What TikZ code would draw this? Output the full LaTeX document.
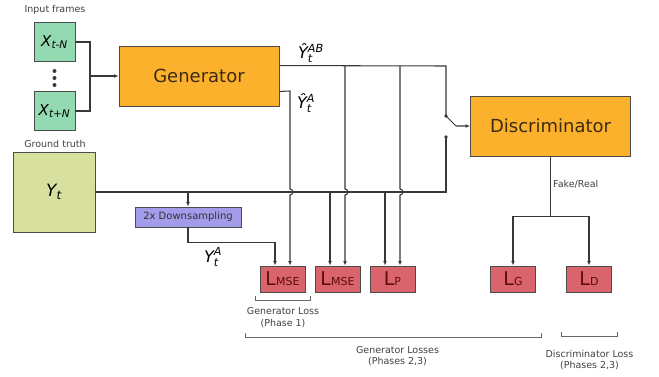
\documentclass[tikz,border=0pt]{standalone}
\usepackage{amsmath}
\usepackage{fontspec}
\setmainfont{DejaVu Sans}
\usepackage{xcolor}
\definecolor{frameGreen}{HTML}{93D9B2}
\definecolor{truthOlive}{HTML}{D7E09F}
\definecolor{netOrange}{HTML}{FCB12D}
\definecolor{sampleBlue}{HTML}{A29CEB}
\definecolor{lossRed}{HTML}{D9646B}
\definecolor{lossText}{HTML}{5E0C0C}
\definecolor{netText}{HTML}{3D2B10}
\definecolor{wireGray}{HTML}{383838}
\usepackage{tikz}
\usetikzlibrary{arrows.meta,calc}
\newcommand{\frameLbl}[1]{{\fontsize{15}{15}\selectfont\itshape X$_{\text{#1}}$}}
\newcommand{\predLbl}[2]{{\fontsize{16}{16}\selectfont\itshape Ŷ$^{\text{#2}}_{\text{#1}}$}}
\newcommand{\lossLbl}[1]{{\fontsize{19}{19}\selectfont L}{\fontsize{11}{11}\selectfont #1}}
\tikzset{%
  baseBlock/.style={
    rectangle, draw=black!70, line width=0.9pt, inner sep=0pt, align=center},
  frameBlock/.style ={baseBlock, fill=frameGreen, minimum width=41pt, minimum height=39pt},
  truthBlock/.style ={baseBlock, fill=truthOlive, minimum width=82pt, minimum height=80pt},
  netBlock/.style   ={baseBlock, fill=netOrange, text=netText, minimum width=160pt,
    minimum height=60pt, font=\fontsize{18}{18}\selectfont},
  sampleBlock/.style={baseBlock, fill=sampleBlue, minimum width=106pt, minimum height=20pt,
    font=\fontsize{10}{10}\selectfont, text=black!80},
  lossBlock/.style  ={baseBlock, fill=lossRed, text=lossText, minimum width=45pt, minimum height=26pt},
  capText/.style    ={font=\fontsize{9.5}{9.5}\selectfont, text=black!75, inner sep=1pt},
  dotMark/.style    ={circle, fill=wireGray, inner sep=0pt, minimum size=3.8pt},
  wire/.style       ={draw=wireGray, line width=1.05pt},
  wireArrow/.style  ={wire, -{Latex[length=4.5pt,width=3.8pt]}},
  bracketLine/.style={draw=black!60, line width=1pt},
}
\begin{document}
\begin{tikzpicture}[x=1pt,y=-1pt]
  \useasboundingbox (0,0) rectangle (659,376);
  % inputs and ground truth
  \node[capText]    (inLbl) at (55,10)   {Input frames};
  \node[frameBlock] (xA)    at (54.5,42) {\frameLbl{t-N}};
  \node[frameBlock] (xB)    at (54.5,111) {\frameLbl{t+N}};
  \foreach \dy in {71,78,85}
    \fill[wireGray] (54.5,\dy) circle[radius=2];
  \node[capText]    (gtLbl) at (55,144)  {Ground truth};
  \node[truthBlock] (yt)    at (54,192)  {{\fontsize{17}{17}\selectfont\itshape Y$_{\text{t}}$}};
  % networks
  \node[netBlock] (gen)  at (199,76)    {Generator};
  \node[netBlock] (disc) at (550.5,126) {Discriminator};
  \node[sampleBlock] (down) at (188,217) {2x Downsampling};
  % losses
  \node[lossBlock] (lmseA) at (282.5,279) {\lossLbl{MSE}};
  \node[lossBlock] (lmseB) at (337.5,279) {\lossLbl{MSE}};
  \node[lossBlock] (lp)    at (392.5,279) {\lossLbl{P}};
  \node[lossBlock] (lg)    at (513,279)   {\lossLbl{G}};
  \node[lossBlock] (ld)    at (589,279)   {\lossLbl{D}};

  % frames into generator
  \coordinate (merge) at (90,76);
  \draw[wire] (xA.east) -| (merge);
  \draw[wire] (xB.east) -| (merge);
  \draw[wireArrow] (merge) -- (gen.west);

  % generator outputs
  \coordinate (genAB) at ($(gen.north east)+(0,20)$);
  \coordinate (genA)  at ($(gen.south east)+(0,-15)$);
  \coordinate (abEnd) at (446,66);
  \coordinate (abB)   at (345,66);
  \coordinate (abC)   at (400,66);
  \node[dotMark] (swA) at (446,116) {};
  \node[dotMark] (swB) at (446,137) {};
  \coordinate (swPivot) at (456,126);
  \draw[wire] (genAB) -- (abEnd) -- (swA.center);
  \draw[wireArrow] (swA.center) -- (swPivot) -- (disc.west);
  \node at (311,53)  {\predLbl{t}{AB}};
  \node at (306,103) {\predLbl{t}{A}};

  % ground truth line
  \coordinate (gtEnd)  at (446,192);
  \coordinate (gtDown) at (down.north |- yt.east);
  \coordinate (gtB)    at (330,192);
  \coordinate (gtC)    at (385,192);
  \draw[wire] (yt.east) -- (gtEnd) -- (swB.center);
  \draw[wireArrow] (gtDown) -- (down.north);
  \draw[wireArrow] (down.south) -- ++(0,15) -| ($(lmseA.north)+(-7.5,0)$);
  \node at (213,257) {{\fontsize{16}{16}\selectfont\itshape Y$^{\text{A}}_{\text{t}}$}};
  \draw[wireArrow] (gtB) -- ($(lmseB.north)+(-7.5,0)$);
  \draw[wireArrow] (gtC) -- ($(lp.north)+(-7.5,0)$);

  % predictions into losses, hopping over the ground truth line
  \draw[wireArrow] (genA) -- (290,91) -- (290,189)
    arc[start angle=-90, end angle=90, radius=3] -- ($(lmseA.north)+(7.5,0)$);
  \draw[wireArrow] (abB) -- (345,189)
    arc[start angle=-90, end angle=90, radius=3] -- ($(lmseB.north)+(7.5,0)$);
  \draw[wireArrow] (abC) -- (400,189)
    arc[start angle=-90, end angle=90, radius=3] -- ($(lp.north)+(7.5,0)$);

  % discriminator output
  \coordinate (frSplit) at ($(disc.south)+(0,60)$);
  \draw[wire] (disc.south) -- (frSplit);
  \draw[wireArrow] (frSplit) -| (lg.north);
  \draw[wireArrow] (frSplit) -| (ld.north);
  \node[capText, anchor=west] (frLbl) at (552,184) {Fake/Real};

  % brackets
  \draw[bracketLine] (255,296) -- (255,300) -- (310,300) -- (310,296);
  \node[capText] (glA) at (283,311) {Generator Loss};
  \node[capText] (glB) at (283,324) {(Phase 1)};
  \draw[bracketLine] (245,333) -- (245,337) -- (541,337) -- (541,333);
  \node[capText] (gsA) at (397.5,350) {Generator Losses};
  \node[capText] (gsB) at (397.5,362) {(Phases 2,3)};
  \draw[bracketLine] (561,332) -- (561,336) -- (617,336) -- (617,332);
  \node[capText] (dlA) at (589.5,354) {Discriminator Loss};
  \node[capText] (dlB) at (589.5,366) {(Phases 2,3)};
\end{tikzpicture}
\end{document}
